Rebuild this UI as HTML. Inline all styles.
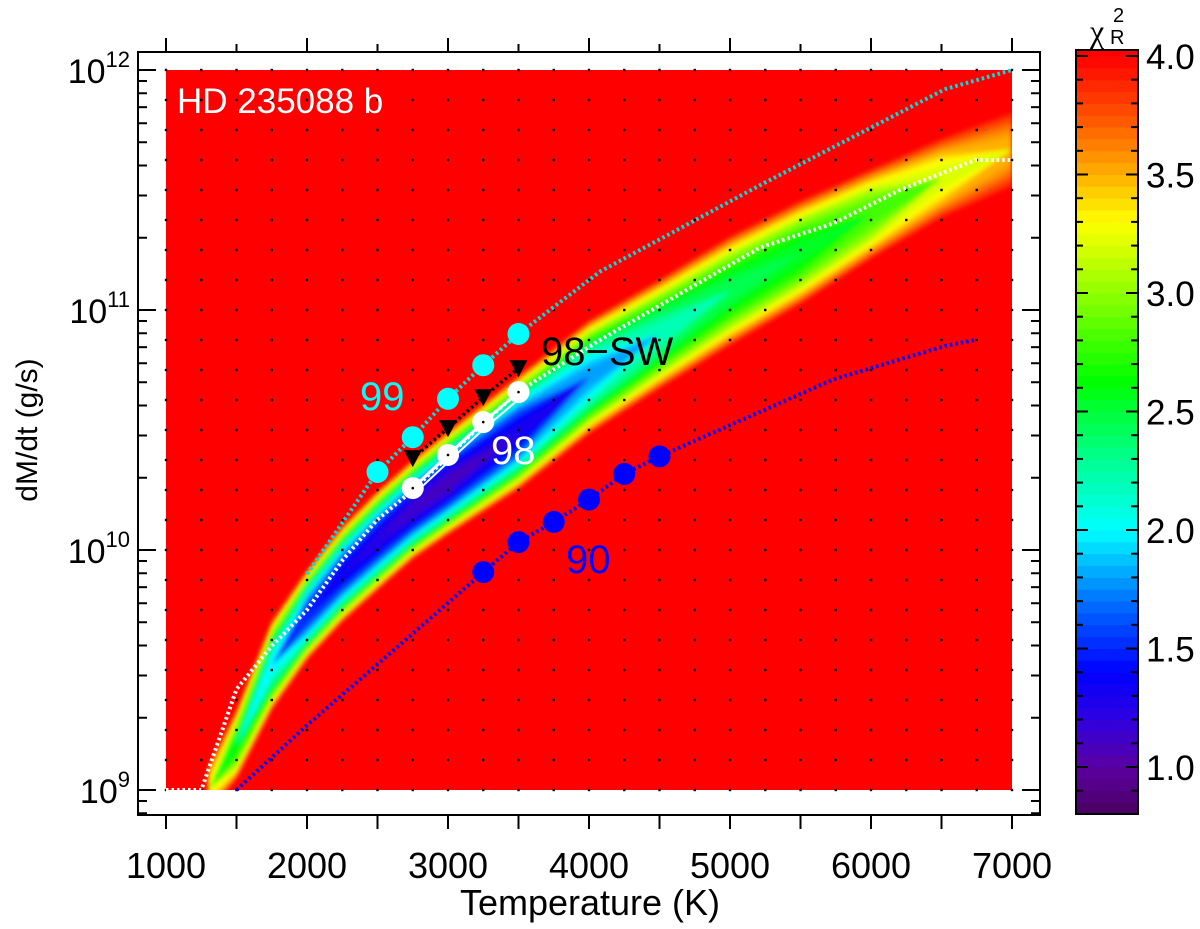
<!DOCTYPE html>
<html><head><meta charset="utf-8"><style>
html,body{margin:0;padding:0;background:#fff;}
svg{display:block;font-family:"Liberation Sans",Arial,sans-serif;}
</style></head><body>
<svg id="chart" width="1200" height="929" viewBox="0 0 1200 929" xmlns="http://www.w3.org/2000/svg">
<defs>
<clipPath id="plotclip"><rect x="166" y="70" width="846" height="720"/></clipPath>
<filter id="soft" x="-5%" y="-5%" width="110%" height="110%"><feGaussianBlur stdDeviation="2"/></filter>
</defs>
<rect x="166" y="70" width="846" height="720" fill="#ff0000"/>
<g id="band" clip-path="url(#plotclip)" filter="url(#soft)"></g>
<g id="grid"></g>
<g id="series"></g>
<g id="axes"></g>
<g id="cbar"></g>
<text x="177" y="113" font-size="35" fill="#fff">HD 235088 b</text>
<text x="360" y="410" font-size="40" fill="#00ffff">99</text>
<text x="541" y="365" font-size="40" fill="#000">98−SW</text>
<text x="491" y="464" font-size="40" fill="#fff">98</text>
<text x="566" y="573" font-size="40" fill="#0000ff">90</text>
<text x="590" y="915" font-size="36" text-anchor="middle">Temperature (K)</text>
<text transform="translate(37,430) rotate(-90)" font-size="30" text-anchor="middle">dM/dt (g/s)</text>
</svg>
<script>
// ---- data ----
const bandT = [1300,1500,1750,2000,2250,2500,2750,3000,3500,4000,4500,5000,5500,6000,6500,7000];
const bandCenter = [9.0,9.19,9.52,9.73,9.90,10.04,10.17,10.28,10.49,10.72,10.9,11.08,11.24,11.40,11.55,11.67];
const bandHalfWidth = [0.104,0.146,0.188,0.188,0.2,0.208,0.208,0.217,0.238,0.238,0.229,0.229,0.217,0.188,0.167,0.158];
const bandMinChi2 = [3.3,2.6,2.0,1.5,1.35,1.25,1.15,1.1,1.3,1.8,2.2,2.45,2.55,2.8,3.2,3.5];

const line98T = [1000,1250,1500,1750,2000,2255,2496,2752,3000,3250,3500,4078,5213,5730,6206,6738,7000];
const line98M = [9.0,9.0,9.42,9.6,9.75,9.96,10.125,10.25,10.39,10.53,10.66,10.875,11.26,11.36,11.5,11.625,11.625];
const line99T = [2000,2500,2750,3000,3250,3500,4078,5213,6525,7000];
const line99M = [9.9,10.325,10.47,10.63,10.77,10.9,11.16,11.52,11.92,12.0];
const line90T = [1500,2000,2610,3250,3500,3750,4000,4250,4500,5730,6525,6738];
const line90M = [9.0,9.27,9.58,9.908,10.033,10.117,10.21,10.317,10.39,10.71,10.85,10.875];

const pts99T = [2500,2750,3000,3250,3500];
const pts99M = [10.325,10.47,10.63,10.77,10.9];
const ptsSWT = [2750,3000,3250,3500];
const ptsSWM = [10.383,10.508,10.637,10.758];
const pts98T = [2750,3000,3250,3500];
const pts98M = [10.258,10.396,10.533,10.658];
const pts90T = [3250,3500,3750,4000,4250,4500];
const pts90M = [9.908,10.033,10.117,10.21,10.317,10.39];

const xTicks = [1000,2000,3000,4000,5000,6000,7000];
const yDecades = [9,10,11,12];
const cbTicks = [1.0,1.5,2.0,2.5,3.0,3.5,4.0];

// ---- scales ----
const X = T => 166 + (T-1000)*846/6000;
const Y = l => 790 - (l-9)*240;
const CY = v => 767 - (v-1)*237;
const NS = "http://www.w3.org/2000/svg";
function mk(tag, attrs, parent){const e=document.createElementNS(NS,tag);for(const k in attrs)e.setAttribute(k,attrs[k]);parent.appendChild(e);return e;}

const stops = [[0.8,[74,0,96]],[1.0,[90,0,160]],[1.2,[48,0,224]],[1.4,[0,0,255]],[1.7,[0,112,255]],[2.0,[0,255,255]],[2.3,[0,255,144]],[2.63,[0,255,0]],[3.0,[144,255,0]],[3.3,[255,255,0]],[3.5,[255,176,0]],[3.75,[255,80,0]],[4.0,[255,0,0]],[4.2,[255,0,0]]];
function cmap(v){
  for(let i=0;i<stops.length-1;i++){
    const [a,ca]=stops[i],[b,cb]=stops[i+1];
    if(v<=b){const t=Math.max(0,(v-a)/(b-a));return `rgb(${ca.map((c,j)=>Math.round(c+(cb[j]-c)*t)).join(',')})`;}
  }
  return 'rgb(255,0,0)';
}

// ---- band (contours of valley) ----
const band = document.getElementById('band');
for(let L=4.0; L>1.0; L-=0.05){
  const up=[], lo=[];
  bandT.forEach((T,i)=>{
    const m=bandMinChi2[i];
    const d = L>m ? bandHalfWidth[i]*Math.sqrt((L-m)/(4-m)) : 0;
    up.push(`${X(T).toFixed(1)},${Y(bandCenter[i]+d).toFixed(1)}`);
    lo.unshift(`${X(T).toFixed(1)},${Y(bandCenter[i]-d).toFixed(1)}`);
  });
  const p = mk('polygon',{points:up.concat(lo).join(' '),fill:cmap(L-0.05)},band);
  
  
}

// ---- grid dots ----
const grid = document.getElementById('grid');
for(let T=1000;T<=7000;T+=250){
  for(let l=9;l<=12.0001;l+=0.125){
    const c = mk('rect',{x:X(T)-1.2,y:Y(l)-1.2,width:2.4,height:2.4,fill:'#000'},grid);
    
    
  }
}

// ---- series ----
const ser = document.getElementById('series');
function poly(Ts,Ms,color,name,dash,w){
  const p = mk('polyline',{points:Ts.map((T,i)=>`${X(T).toFixed(1)},${Y(Ms[i]).toFixed(1)}`).join(' '),fill:'none',stroke:color,'stroke-width':w,'stroke-dasharray':dash},ser);
  
  
}
poly(line99T,line99M,'#00e0e0','line-99','2.5 3',4);
poly(line98T,line98M,'#ffffff','line-98','2.5 3',4);
poly(line90T,line90M,'#0000ff','line-90','2.5 3',4);
poly(ptsSWT,ptsSWM,'#000','line-98-sw','2.5 3',3.5);
poly(pts98T,pts98M,'#ffffff','line-98-points','',3);
poly(pts98T,pts98M.map(m=>m-0.03),'#ffffff','line-98-lower','',2);
pts99T.forEach((T,i)=>{const c=mk('circle',{cx:X(T),cy:Y(pts99M[i]),r:11,fill:'#00ffff'},ser);
  
  });
pts90T.forEach((T,i)=>{const c=mk('circle',{cx:X(T),cy:Y(pts90M[i]),r:11,fill:'#0000ff'},ser);
  
  });
ptsSWT.forEach((T,i)=>{const x=X(T),y=Y(ptsSWM[i]);
  const c=mk('polygon',{points:`${x-9},${y-8} ${x+9},${y-8} ${x},${y+9}`,fill:'#000'},ser);
  
  });
pts98T.forEach((T,i)=>{const c=mk('circle',{cx:X(T),cy:Y(pts98M[i]),r:11,fill:'#ffffff'},ser);
  
  
  const d=mk('circle',{cx:X(T),cy:Y(pts98M[i]),r:1.3,fill:'#000'},ser);
  
  });

// ---- axes ----
const ax = document.getElementById('axes');
const fr = mk('rect',{x:138,y:52,width:902,height:763,fill:'none',stroke:'#000','stroke-width':2},ax);


for(let T=1000;T<=7000;T+=500){
  const major = T%1000===0;
  mk('line',{x1:X(T),x2:X(T),y1:815,y2:829,stroke:'#000','stroke-width':2},ax);
  mk('line',{x1:X(T),x2:X(T),y1:52,y2:major?38:44,stroke:'#000','stroke-width':2},ax);
}
xTicks.forEach(T=>{const t=mk('text',{x:X(T),y:878,'font-size':36,'text-anchor':'middle'},ax);t.textContent=T;
  
  });
yDecades.forEach(d=>{
  const y=Y(d);
  mk('line',{x1:138,x2:156,y1:y,y2:y,stroke:'#000','stroke-width':2},ax);
  mk('line',{x1:1040,x2:1022,y1:y,y2:y,stroke:'#000','stroke-width':2},ax);
  const t=mk('text',{x:130,y:y+13,'font-size':34,'text-anchor':'end'},ax);
  
  
  const b=document.createElementNS(NS,'tspan');b.textContent='10';t.appendChild(b);
  const s=document.createElementNS(NS,'tspan');s.setAttribute('font-size','22');s.setAttribute('dy','-16');s.textContent=d;t.appendChild(s);
});
for(let d=8;d<=12;d++){for(let k=2;k<=9;k++){const l=d+Math.log10(k);const y=Y(l);
  if(y<52||y>815)continue;
  mk('line',{x1:138,x2:147,y1:y,y2:y,stroke:'#000','stroke-width':2},ax);
  mk('line',{x1:1040,x2:1031,y1:y,y2:y,stroke:'#000','stroke-width':2},ax);}}

// ---- colorbar ----
const cb = document.getElementById('cbar');
for(let v=0.8; v<4.03; v+=0.05){
  const r=mk('rect',{x:1076,y:CY(v+0.05)-0.5,width:62,height:237*0.05+1,fill:cmap(v+0.025)},cb);
  
  
}
mk('rect',{x:1060,y:30,width:100,height:20,fill:'#fff'},cb);
const cbf=mk('rect',{x:1076,y:50,width:62,height:764,fill:'none',stroke:'#000','stroke-width':2},cb);


for(let v=0.9; v<4.01; v+=0.1){const y=CY(v);
  const maj=Math.abs(v*2-Math.round(v*2))<0.01;
  mk('line',{x1:1076,x2:1076+(maj?12:7),y1:y,y2:y,stroke:'#000','stroke-width':2},cb);
  mk('line',{x1:1138,x2:1138-(maj?12:7),y1:y,y2:y,stroke:'#000','stroke-width':2},cb);}
cbTicks.forEach(v=>{const t=mk('text',{x:1146,y:CY(v)+13,'font-size':35},cb);t.textContent=v.toFixed(1);
  
  });
const ct=mk('text',{x:1090,y:42,'font-size':32,'font-family':'Liberation Serif, serif'},cb);


ct.textContent='χ';
const cs=mk('text',{x:1113,y:22,'font-size':20},cb);cs.textContent='2';


const cr=mk('text',{x:1110,y:44,'font-size':20},cb);cr.textContent='R';


</script>
</body></html>
